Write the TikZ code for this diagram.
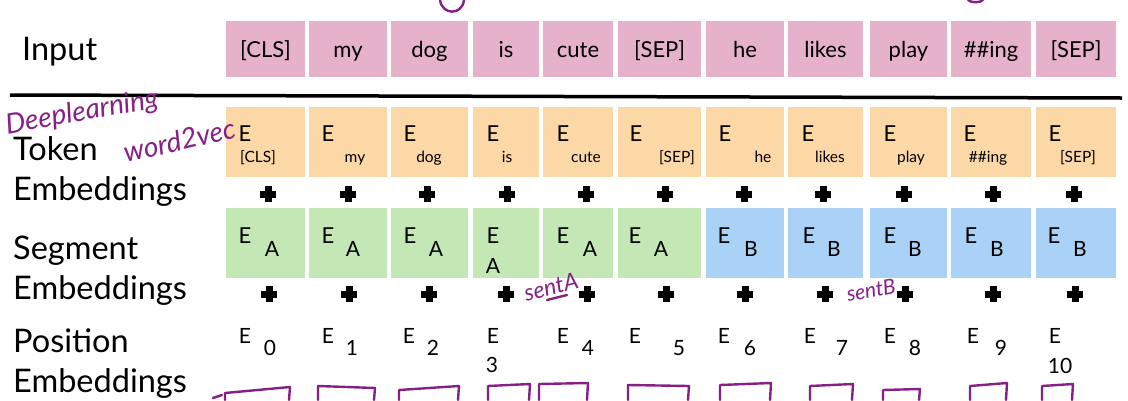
\documentclass[tikz,border=0pt]{standalone}
\usepackage{fontspec}
\setmainfont{Lato}
\usetikzlibrary{positioning, calc}
\definecolor{inputpink}{HTML}{E6B1CB}
\definecolor{tokenpeach}{HTML}{FDD8A7}
\definecolor{segmentgreen}{HTML}{C4E7B6}
\definecolor{segmentblue}{HTML}{AAD2F7}
\definecolor{inkpurple}{HTML}{861F86}
\newcommand{\fsz}[1]{\fontsize{#1}{#1}\selectfont}

\begin{document}
\begin{tikzpicture}[x=1pt, y=-1pt,
    cellbox/.style={inner sep=0pt, minimum height=70pt},
    rowlabel/.style={anchor=base west, inner sep=0pt, font=\fsz{32.5}},
    etext/.style={anchor=base, inner sep=0pt, font=\fsz{22}},
    subtext/.style={anchor=base, inner sep=0pt, font=\fsz{21}},
    wordtext/.style={anchor=base, inner sep=0pt, font=\fsz{15.5}},
    plussign/.style={minimum size=16.5pt, inner sep=0pt, path picture={
        \draw[line width=7pt] (path picture bounding box.north) -- (path picture bounding box.south)
          (path picture bounding box.west) -- (path picture bounding box.east);}},
    ink/.style={text=inkpurple, inner sep=0pt},
    inkline/.style={draw=inkpurple, line width=2.4pt, line cap=round, line join=round}]
  \fill[white] (0,0) rectangle (1128,400);
  \useasboundingbox (0,0) rectangle (1128,400);

  % row labels
  \node[rowlabel] (lblInput) at (22,60) {Input};
  \node[rowlabel] (lblTok) at (13,160) {Token};
  \node[rowlabel] (lblTokE) at (13,200) {Embeddings};
  \node[rowlabel] (lblSeg) at (13,259) {Segment};
  \node[rowlabel] (lblSegE) at (13,299) {Embeddings};
  \node[rowlabel] (lblPos) at (13,352) {Position};
  \node[rowlabel] (lblPosE) at (13,392) {Embeddings};

  % input tokens
  \foreach \l/\r/\w [count=\i] in {226/305/{[CLS]}, 309/387/my, 391/468/dog, 473/539/is,
      543/613/cute, 618/701/{[SEP]}, 706/784/he, 788/863/likes, 870/947/play,
      951/1031/\#\#ing, 1036/1116/{[SEP]}}
    \node[cellbox, fill=inputpink, minimum width={\r-\l}, minimum height=56pt,
          font=\fsz{22}, text height=17pt, text depth=1pt] (in\i) at ({(\l+\r)/2},49) {\w};

  \coordinate (ruleL) at (10,95);
  \coordinate (ruleR) at (1122,98);
  \draw[line width=3.5pt] (ruleL) -- (ruleR);

  % token embeddings
  \foreach \l/\r/\ex/\wx/\w [count=\i] in {226/305/245/258/{[CLS]}, 309/387/328/355/my,
      391/468/410/429/dog, 473/539/493/507/is, 543/613/563/586/cute, 618/701/636/677/{[SEP]},
      706/784/725/763/he, 788/863/808/830/likes, 870/947/890/911/play,
      951/1031/970/988/\#\#ing, 1036/1116/1055/1078/{[SEP]}} {
    \node[cellbox, fill=tokenpeach, minimum width={\r-\l}] (tok\i) at ({(\l+\r)/2},142) {};
    \node[etext] (tokE\i) at (\ex,141) {E};
    \node[wordtext] (tokW\i) at (\wx,162) {\w};
  }

  % segment embeddings
  \foreach \l/\r/\c/\ex/\sx/\sy/\s [count=\i] in {226/305/segmentgreen/245/272/256/A,
      309/387/segmentgreen/328/353/256/A, 391/468/segmentgreen/410/436/256/A,
      473/539/segmentgreen/493/493/273/A, 543/613/segmentgreen/563/590/256/A,
      618/701/segmentgreen/635/661/256/A, 706/784/segmentblue/724/751/256/B,
      788/863/segmentblue/809/834/256/B, 870/947/segmentblue/890/915/256/B,
      951/1031/segmentblue/971/997/256/B, 1036/1116/segmentblue/1054/1080/256/B} {
    \node[cellbox, fill=\c, minimum width={\r-\l}] (seg\i) at ({(\l+\r)/2},243) {};
    \node[etext] (segE\i) at (\ex,243) {E};
    \node[subtext] (segS\i) at (\sx,\sy) {\s};
  }

  % position embeddings
  \foreach \ex/\sx/\sy/\s [count=\i] in {245/270/355/0, 328/352/355/1, 409/433/355/2,
      493/492/372/3, 563/588/355/4, 635/679/355/5, 724/750/355/6, 810/842/355/7,
      890/915/355/8, 973/1001/355/9, 1055/1060/373/10} {
    \node[subtext] (posE\i) at (\ex,343) {E};
    \node[subtext] (posS\i) at (\sx,\sy) {\s};
  }

  % plus signs
  \foreach \xa/\xb [count=\i] in {268/269, 348/349, 427/429, 507/506, 586/587, 665/666,
      744/745, 823/825, 904/905, 993/993, 1074/1075} {
    \node[plussign] (plusT\i) at (\xa,194) {};
    \node[plussign] (plusS\i) at (\xb,294) {};
  }

  % handwritten notes
  \node[ink, font=\itshape\fsz{28}, rotate=10] (noteDL) at (82,113) {Deeplearning};
  \node[ink, font=\itshape\fsz{28}, rotate=13, anchor=base west] (noteW2V) at (126,163) {word2vec};
  \node[ink, font=\itshape\fsz{23}, rotate=14] (noteSA) at (551,287) {sentA};
  \node[ink, font=\itshape\fsz{21}, rotate=10] (noteSB) at (871,290) {sentB};
  \draw[inkline] (547,300) -- (567,295);
  \draw[inkline] (440,0) .. controls (442,15) and (462,16) .. (464,0);
  \draw[inkline] (968,0) .. controls (971,3) and (980,3) .. (983,0);

  % hand-drawn boxes at the bottom
  \foreach \l/\r/\ta/\tb in {225/290/393/387, 318/375/386/388, 399/459/390/386,
      488/530/386/384, 539/588/384/383, 628/689/385/386, 720/771/385/383,
      810/853/386/384, 883/920/390/389, 970/1007/386/383, 1042/1073/386/384}
    \draw[inkline] (\l,400) -- (\l,\ta) -- (\r,\tb) -- (\r-1,400);
  \draw[inkline] (213,398) -- (222,395);
\end{tikzpicture}
\end{document}
